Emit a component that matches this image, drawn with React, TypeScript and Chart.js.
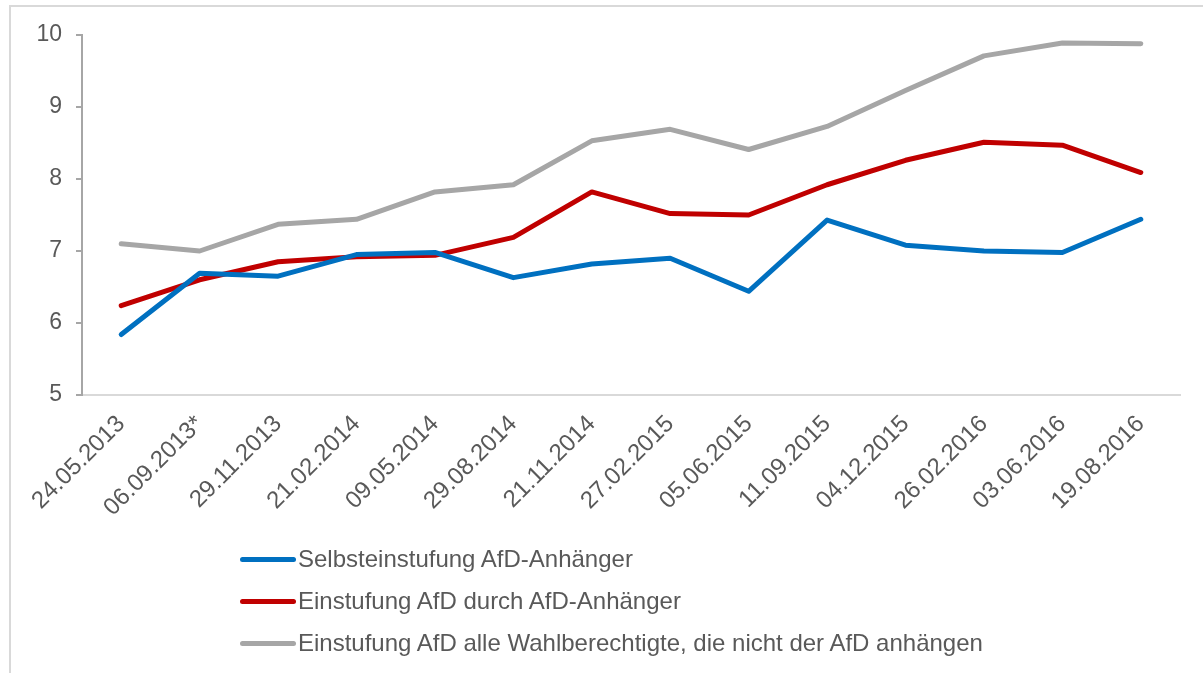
import React, { useEffect, useRef } from "react";
import { Chart, registerables } from "chart.js";

Chart.register(...registerables);

const categories = [
  "24.05.2013", "06.09.2013*", "29.11.2013", "21.02.2014", "09.05.2014",
  "29.08.2014", "21.11.2014", "27.02.2015", "05.06.2015", "11.09.2015",
  "04.12.2015", "26.02.2016", "03.06.2016", "19.08.2016",
];

const selbst = [5.84, 6.69, 6.65, 6.95, 6.98, 6.63, 6.82, 6.90, 6.44, 7.43, 7.08, 7.00, 6.98, 7.44];
const durchAfd = [6.24, 6.60, 6.85, 6.92, 6.94, 7.19, 7.82, 7.52, 7.50, 7.92, 8.26, 8.51, 8.47, 8.09];
const alleWahl = [7.10, 7.00, 7.37, 7.44, 7.82, 7.92, 8.53, 8.69, 8.41, 8.73, 9.23, 9.71, 9.89, 9.88];

const seriesNames = [
  "Selbsteinstufung AfD-Anhänger",
  "Einstufung AfD durch AfD-Anhänger",
  "Einstufung AfD alle Wahlberechtigte, die nicht der AfD anhängen",
];
const seriesColors = ["#0070C0", "#C00000", "#A6A6A6"];
const yTicks = [5, 6, 7, 8, 9, 10];

const FONT = "'Liberation Sans', Arial, sans-serif";
const W = 1203;
const H = 673;

export default function App() {
  const ref = useRef<HTMLCanvasElement | null>(null);

  useEffect(() => {
    document.body.style.margin = "0";
    const canvas = ref.current;
    if (!canvas) return;
    const seriesData = [selbst, durchAfd, alleWahl];
    const chart = new Chart(canvas, {
      type: "line",
      data: {
        labels: categories,
        datasets: seriesData.map((d, i) => ({
          label: seriesNames[i],
          data: d,
          borderColor: seriesColors[i],
          backgroundColor: seriesColors[i],
          borderWidth: 5,
          pointRadius: 0,
          pointHoverRadius: 0,
          tension: 0,
          borderCapStyle: "round" as const,
          borderJoinStyle: "round" as const,
          fill: false,
        })),
      },
      options: {
        responsive: false,
        animation: false,
        devicePixelRatio: 1,
        layout: { padding: { left: 0, top: 35, right: 23, bottom: 0 } },
        plugins: {
          legend: { display: false },
          tooltip: { enabled: false },
        },
        scales: {
          x: {
            offset: true,
            grid: { display: false, drawTicks: false },
            border: { display: true, color: "#D9D9D9", width: 2 },
            ticks: {
              minRotation: 45,
              maxRotation: 45,
              autoSkip: false,
              padding: 15,
              color: "#595959",
              font: { family: FONT, size: 24 },
            },
            afterFit: (scale: any) => {
              scale.height = H - 395;
            },
          },
          y: {
            min: 5,
            max: 10,
            afterBuildTicks: (scale: any) => {
              scale.ticks = yTicks.map((v) => ({ value: v }));
            },
            grid: {
              display: true,
              drawOnChartArea: false,
              drawTicks: true,
              tickLength: 6,
              color: "#A6A6A6",
              lineWidth: 2,
            },
            border: { display: true, color: "#A6A6A6", width: 2 },
            ticks: {
              padding: 14,
              color: "#595959",
              font: { family: FONT, size: 23 },
            },
            afterFit: (scale: any) => {
              scale.width = 82;
            },
          },
        },
      },
    });
    return () => chart.destroy();
  }, []);

  return (
    <div style={{ position: "absolute", left: 0, top: 0, width: W, height: H, overflow: "hidden", background: "#fff" }}>
      <div
        style={{
          position: "absolute",
          left: 9,
          top: 5,
          width: 1400,
          height: 900,
          borderLeft: "2px solid #D9D9D9",
          borderTop: "2px solid #D9D9D9",
        }}
      />
      <canvas ref={ref} width={W} height={H} style={{ position: "absolute", left: 0, top: 0, width: W, height: H }} />
      {seriesNames.map((name, i) => (
        <div
          key={name}
          style={{
            position: "absolute",
            left: 240,
            top: 559 + i * 42 - 15,
            height: 30,
            display: "flex",
            alignItems: "center",
            fontFamily: FONT,
            fontSize: 24,
            color: "#595959",
            whiteSpace: "nowrap",
          }}
        >
          <span
            style={{
              display: "inline-block",
              width: 56,
              height: 5,
              borderRadius: 3,
              background: seriesColors[i],
              marginRight: 2,
            }}
          />
          <span>{name}</span>
        </div>
      ))}
    </div>
  );
}
